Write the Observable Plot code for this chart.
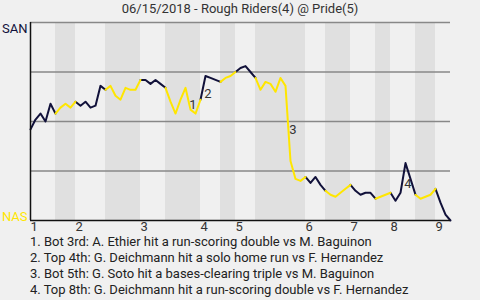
<!DOCTYPE html>
<html>
<head>
<meta charset="utf-8">
<script src="https://cdn.jsdelivr.net/npm/d3@7"></script>
<script src="https://cdn.jsdelivr.net/npm/@observablehq/plot@0.6"></script>
<style>
  body { margin: 0; background: #f0f0f0; width: 480px; height: 300px; overflow: hidden; font-family: Roboto, sans-serif; }
  #title { height: 18px; line-height: 18px; text-align: center; font-size: 13px; color: #333; }
  #notes { position: relative; margin-top: -1px; padding-left: 30px; font-size: 13px; color: #222; white-space: nowrap; }
  #notes div { height: 13px; line-height: 13px; margin-bottom: 3px; }
  svg { display: block; overflow: visible; }
</style>
</head>
<body>
<div id="title"></div>
<div id="chart"></div>
<div id="notes"></div>
<script>
const titleText = "06/15/2018 - Rough Riders(4) @ Pride(5)";
const inningLabels = ["1", "2", "3", "4", "5", "6", "7", "8", "9"];
const inningStartPA = [0, 9, 22, 34, 41, 55, 64, 72, 81];
const halfInningBounds = [0, 5, 9, 15, 22, 27, 34, 38, 41, 45, 55, 59, 64, 69, 72, 77, 81, 84];
const sanWinProb = [
  0.46, 0.51, 0.54, 0.50, 0.59, 0.54, 0.57, 0.59, 0.57, 0.60,
  0.58, 0.60, 0.57, 0.58, 0.68, 0.66, 0.68, 0.63, 0.61, 0.67,
  0.66, 0.66, 0.71, 0.71, 0.69, 0.71, 0.69, 0.67, 0.60, 0.54,
  0.61, 0.67, 0.56, 0.54, 0.61, 0.73, 0.72, 0.71, 0.70, 0.72,
  0.73, 0.75, 0.77, 0.78, 0.75, 0.72, 0.66, 0.70, 0.69, 0.65,
  0.72, 0.68, 0.30, 0.21, 0.20, 0.22, 0.19, 0.22, 0.18, 0.15,
  0.13, 0.12, 0.14, 0.16, 0.18, 0.15, 0.13, 0.14, 0.14, 0.11,
  0.12, 0.13, 0.14, 0.10, 0.14, 0.29, 0.21, 0.13, 0.11, 0.12,
  0.13, 0.16, 0.09, 0.03, 0.00
];
const gridValues = [0.25, 0.5, 0.75, 1];
const teamLabels = ["SAN", "NAS"];
const teamValues = [1, 0];
const eventPA = [32, 35, 52, 75];
const eventLabels = ["1", "2", "3", "4"];
const eventTexts = [
  "1. Bot 3rd: A. Ethier hit a run-scoring double vs M. Baguinon",
  "2. Top 4th: G. Deichmann hit a solo home run vs F. Hernandez",
  "3. Bot 5th: G. Soto hit a bases-clearing triple vs M. Baguinon",
  "4. Top 8th: G. Deichmann hit a run-scoring double vs F. Hernandez"
];

const NAVY = "#11113a";
const YELLOW = "#ffe600";

document.getElementById("title").textContent = titleText;
document.getElementById("notes").innerHTML = eventTexts.map(t => `<div>${t}</div>`).join("");

const bands = [];
for (let h = 1; h < halfInningBounds.length - 1; h += 2) {
  bands.push({x1: halfInningBounds[h], x2: halfInningBounds[h + 1]});
}
const lineData = [];
for (let h = 0; h < halfInningBounds.length - 1; h++) {
  for (let i = halfInningBounds[h]; i <= halfInningBounds[h + 1]; i++) {
    lineData.push({pa: i, p: sanWinProb[i], half: h});
  }
}
const tops = lineData.filter(d => d.half % 2 === 0);
const bottoms = lineData.filter(d => d.half % 2 === 1);
const events = eventPA.map((pa, k) => ({
  x: pa - 0.5,
  y: (sanWinProb[pa - 1] + sanWinProb[pa]) / 2,
  label: eventLabels[k]
}));
const innings = inningLabels.map((l, k) => ({x: inningStartPA[k], label: l}));
const teams = teamLabels.map((l, k) => ({y: teamValues[k], label: l}));

const chart = Plot.plot({
  width: 480,
  height: 218,
  marginLeft: 30,
  marginRight: 30,
  marginTop: 4,
  marginBottom: 16,
  style: {background: "transparent", fontFamily: "Roboto, sans-serif", fontSize: "13px", overflow: "visible"},
  x: {domain: [0, 84], axis: null},
  y: {domain: [0, 1], axis: null},
  marks: [
    Plot.rect(bands, {x1: "x1", x2: "x2", fill: "#e0e0e0"}),
    Plot.ruleY(gridValues, {stroke: "#888", strokeWidth: 1.5}),
    Plot.line(tops, {x: "pa", y: "p", z: "half", stroke: NAVY, strokeWidth: 2}),
    Plot.line(bottoms, {x: "pa", y: "p", z: "half", stroke: YELLOW, strokeWidth: 2}),
    Plot.ruleX([0], {stroke: "#111", strokeWidth: 1.5}),
    Plot.ruleY([0], {stroke: "#111", strokeWidth: 1.5}),
    Plot.text(events, {x: "x", y: "y", text: "label", dx: 5, dy: 6, fill: "#333", fontSize: 13}),
    Plot.text(innings, {x: "x", y: () => 0, text: "label", textAnchor: "start", lineAnchor: "top", dy: 1.5, fill: "#333", fontSize: 13}),
    Plot.text(teams.filter(d => d.y === 1), {y: "y", text: "label", frameAnchor: "left", dx: -3, textAnchor: "end", lineAnchor: "top", dy: 1.5, fill: NAVY, fontSize: 13}),
    Plot.text(teams.filter(d => d.y === 0), {y: "y", text: "label", frameAnchor: "left", dx: -3, textAnchor: "end", lineAnchor: "bottom", fill: YELLOW, fontSize: 13})
  ]
});
document.getElementById("chart").appendChild(chart);
</script>
</body>
</html>
